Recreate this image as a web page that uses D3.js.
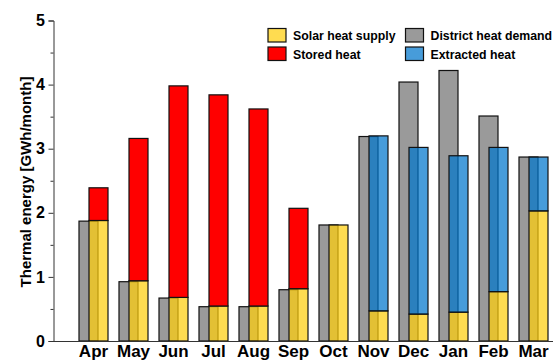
<!DOCTYPE html>
<html>
<head>
<meta charset="utf-8">
<script src="https://cdn.jsdelivr.net/npm/d3@7"></script>
<style>
  html, body { margin: 0; padding: 0; background: #fff; }
  svg { display: block; font-family: "Liberation Sans", Arial, sans-serif; }
</style>
</head>
<body>
<svg id="chart" width="553" height="362"></svg>
<script>
// Monthly thermal energy balance [GWh/month]
const months = ["Apr","May","Jun","Jul","Aug","Sep","Oct","Nov","Dec","Jan","Feb","Mar"];
const districtDemand = [1.87, 0.925, 0.67, 0.535, 0.535, 0.80, 1.81, 3.19, 4.04, 4.22, 3.51, 2.87];
const solarSupply    = [1.88, 0.94, 0.68, 0.546, 0.546, 0.816, 1.81, 0.47, 0.42, 0.45, 0.77, 2.03];
const storedHeat     = [0.51, 2.22, 3.30, 3.294, 3.074, 1.254, 0, 0, 0, 0, 0, 0];
const extractedHeat  = [0, 0, 0, 0, 0, 0, 0, 2.73, 2.60, 2.44, 2.25, 0.84];
const yTicks = [0, 1, 2, 3, 4, 5];

const svg = d3.select("#chart");

const x = d3.scaleBand().domain(months).range([73.5, 553.5]).padding(0);
const y = d3.scaleLinear().domain([0, 5]).range([341, 20.5]);

const barW = 19;
const greyFill = "#9a9a9a";
const yellow = "#ffce0c";
const red = "#ff0000";
const blue = "#0076cc";
const overlayOpacity = 0.72;

const rows = months.map((m, i) => ({
  m,
  demand: districtDemand[i],
  solar: solarSupply[i],
  stored: storedHeat[i],
  extracted: extractedHeat[i]
}));

const centre = m => x(m) + x.bandwidth() / 2;

// District heat demand (behind)
svg.append("g").selectAll("rect").data(rows).join("rect")
  .attr("x", d => centre(d.m) - 14.5)
  .attr("width", barW)
  .attr("y", d => y(d.demand))
  .attr("height", d => y(0) - y(d.demand))
  .attr("fill", greyFill)
  .attr("stroke", "#111")
  .attr("stroke-width", 1.2);

// Stacked supply bars: solar at the bottom, stored or extracted heat above
const supply = svg.append("g");
supply.selectAll("rect.solar").data(rows).join("rect")
  .attr("class", "solar")
  .attr("x", d => centre(d.m) - 4.5)
  .attr("width", barW)
  .attr("y", d => y(d.solar))
  .attr("height", d => y(0) - y(d.solar))
  .attr("fill", yellow)
  .attr("fill-opacity", overlayOpacity)
  .attr("stroke", "#111")
  .attr("stroke-width", 1.2);

supply.selectAll("rect.stored").data(rows.filter(d => d.stored > 0)).join("rect")
  .attr("class", "stored")
  .attr("x", d => centre(d.m) - 4.5)
  .attr("width", barW)
  .attr("y", d => y(d.solar + d.stored))
  .attr("height", d => y(d.solar) - y(d.solar + d.stored))
  .attr("fill", red)
  .attr("stroke", "#111")
  .attr("stroke-width", 1.2);

supply.selectAll("rect.extracted").data(rows.filter(d => d.extracted > 0)).join("rect")
  .attr("class", "extracted")
  .attr("x", d => centre(d.m) - 4.5)
  .attr("width", barW)
  .attr("y", d => y(d.solar + d.extracted))
  .attr("height", d => y(d.solar) - y(d.solar + d.extracted))
  .attr("fill", blue)
  .attr("fill-opacity", overlayOpacity)
  .attr("stroke", "#111")
  .attr("stroke-width", 1.2);

// Y axis with major and minor ticks
const yAxis = svg.append("g").attr("transform", "translate(53.5,0)");
yAxis.call(d3.axisLeft(y).tickValues(yTicks).tickSize(5).tickPadding(3.5).tickFormat(d3.format("d")));
yAxis.selectAll(".tick text")
  .attr("font-size", 16).attr("font-weight", "bold").attr("fill", "#000")
  .attr("font-family", "'Liberation Sans', Arial, sans-serif");
yAxis.selectAll("path, line").attr("stroke", "#333").attr("stroke-width", 1);

const yMinor = svg.append("g").attr("transform", "translate(53.5,0)");
yMinor.call(d3.axisLeft(y).tickValues([0.5, 1.5, 2.5, 3.5, 4.5]).tickSize(3).tickFormat(""));
yMinor.select(".domain").remove();
yMinor.selectAll("line").attr("stroke", "#333");

// X axis
const xAxis = svg.append("g").attr("transform", `translate(0,${y(0)})`);
xAxis.call(d3.axisBottom(x).tickSize(0).tickPadding(4));
xAxis.select(".domain").attr("d", `M53,0.5H553`).attr("stroke", "#333");
xAxis.selectAll(".tick text")
  .attr("font-size", 17).attr("font-weight", "bold").attr("fill", "#000")
  .attr("font-family", "'Liberation Sans', Arial, sans-serif");

// Axis title
svg.append("text")
  .attr("transform", `translate(25,182) rotate(-90)`)
  .attr("text-anchor", "middle")
  .attr("dominant-baseline", "central")
  .attr("font-size", 15)
  .attr("font-weight", "bold")
  .text("Thermal energy [GWh/month]");

// Legend
const legendItems = [
  { label: "Solar heat supply", fill: yellow, op: overlayOpacity, x: 268, y: 28.5 },
  { label: "Stored heat", fill: red, op: 1, x: 268, y: 47 },
  { label: "District heat demand", fill: greyFill, op: 1, x: 405.5, y: 28.5 },
  { label: "Extracted heat", fill: blue, op: overlayOpacity, x: 405.5, y: 47 }
];
const legend = svg.append("g").selectAll("g").data(legendItems).join("g")
  .attr("transform", d => `translate(${d.x},${d.y})`);
legend.append("rect")
  .attr("width", 18).attr("height", 13.5)
  .attr("fill", d => d.fill).attr("fill-opacity", d => d.op)
  .attr("stroke", "#111").attr("stroke-width", 1.2);
legend.append("text")
  .attr("x", 25).attr("y", 11.5)
  .attr("font-size", 12.3).attr("font-weight", "bold")
  .text(d => d.label);
</script>
</body>
</html>
